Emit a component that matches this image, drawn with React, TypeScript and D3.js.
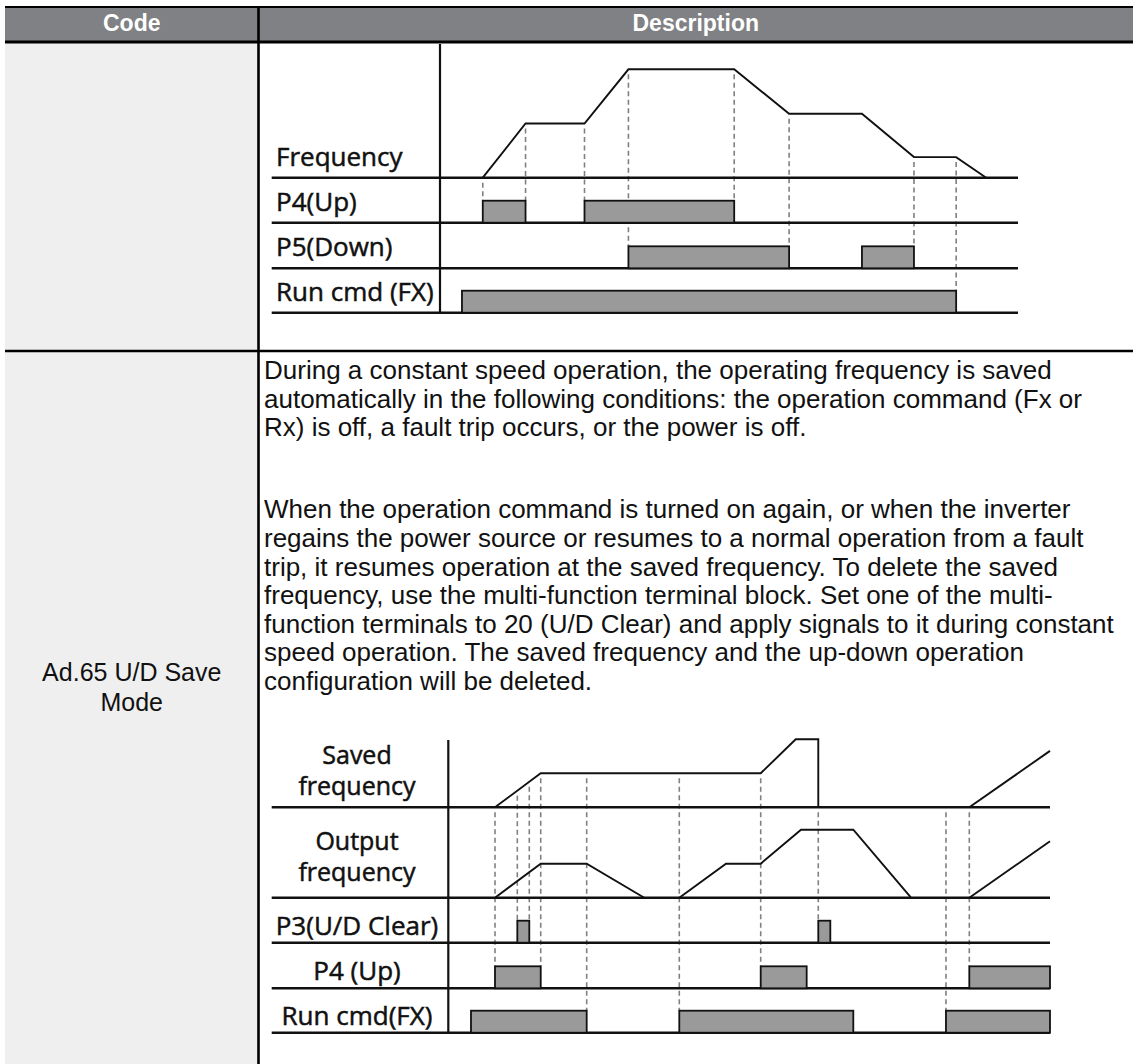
import React from 'react';
import * as d3 from 'd3';

// ---------- table text ----------
const headerLabels = ['Code', 'Description'];
const codeLines = ['Ad.65 U/D Save', 'Mode'];
const para1 = [
  'During a constant speed operation, the operating frequency is saved',
  'automatically in the following conditions: the operation command (Fx or',
  'Rx) is off, a fault trip occurs, or the power is off.',
];
const para2 = [
  'When the operation command is turned on again, or when the inverter',
  'regains the power source or resumes to a normal operation from a fault',
  'trip, it resumes operation at the saved frequency. To delete the saved',
  'frequency, use the multi-function terminal block. Set one of the multi-',
  'function terminals to 20 (U/D Clear) and apply signals to it during constant',
  'speed operation. The saved frequency and the up-down operation',
  'configuration will be deleted.',
];

// ---------- diagram 1 (time 0..100, level 0..100) ----------
const d1Labels = ['Frequency', 'P4(Up)', 'P5(Down)', 'Run cmd (FX)'];
const d1Freq: [number, number][][] = [[
  [7.4, 0], [14.8, 50], [25, 50], [32.6, 100], [50.9, 100], [60.4, 59],
  [73, 59], [82, 19], [89.3, 19], [94.5, 0],
]];
const d1P4: [number, number][] = [[7.4, 14.8], [25, 50.9]];
const d1P5: [number, number][] = [[32.6, 60.4], [73, 82]];
const d1Run: [number, number][] = [[3.8, 89.3]];
const d1DashTimes = [7.4, 14.8, 25, 32.6, 50.9, 60.4, 82, 89.3];
const d1DashTargets = [1, 1, 1, 2, 1, 2, 2, 3];

// ---------- diagram 2 ----------
const d2Labels = [['Saved', 'frequency'], ['Output', 'frequency'], ['P3(U/D Clear)'], ['P4 (Up)'], ['Run cmd(FX)']];
const d2Saved: [number, number][][] = [
  [[7.76, 0], [15.36, 50], [51.92, 50], [57.74, 100], [61.49, 100], [61.49, 0]],
  [[86.59, 0], [100, 83]],
];
const d2Output: [number, number][][] = [
  [[7.76, 0], [15.36, 50], [23, 50], [32.57, 0]],
  [[38.39, 0], [46.15, 50], [51.92, 50], [58.62, 100], [67.31, 100], [76.9, 0]],
  [[86.59, 0], [100, 83]],
];
const d2P3: [number, number][] = [[11.47, 13.46], [61.49, 63.49]];
const d2P4: [number, number][] = [[7.76, 15.36], [51.92, 59.56], [86.59, 100]];
const d2Run: [number, number][] = [[3.77, 23.0], [38.39, 67.31], [82.71, 100]];
const d2DashTimes = [7.76, 11.47, 13.46, 15.36, 23.0, 38.39, 51.92, 61.49, 82.71, 86.59];
const d2DashTargets = [3, 2, 2, 3, 4, 4, 3, 2, 4, 3];

// ---------- styles ----------
const LABEL_FONT = '"Open Sans", "Noto Sans", sans-serif';
const BODY_FONT = '"Liberation Sans", Arial, sans-serif';
const PULSE_H = 22;
const DASH_GAP = 5;

function levelAt(segments: [number, number][][], t: number): number {
  for (const seg of segments) {
    if (t < seg[0][0] || t > seg[seg.length - 1][0]) continue;
    let val = 0;
    for (let i = 0; i < seg.length - 1; i++) {
      const [t0, v0] = seg[i];
      const [t1, v1] = seg[i + 1];
      if (t >= t0 && t <= t1) {
        val = t1 === t0 ? v1 : v0 + ((t - t0) / (t1 - t0)) * (v1 - v0);
      }
    }
    return val;
  }
  return 0;
}

type DiagramProps = {
  axisX: number;
  axisTop: number;
  endX: number;
  lineStart: number;
  baselines: number[];
  curveRows: { row: number; segs: [number, number][][]; height: number }[];
  pulseRows: { row: number; pulses: [number, number][] }[];
  dashTimes: number[];
  dashTargets: number[];
  dashSource: [number, number][][];
  dashSourceHeight: number;
};

function Diagram(p: DiagramProps) {
  const x = d3.scaleLinear().domain([0, 100]).range([p.axisX, p.endX]);
  const yFor = (row: number, h: number) =>
    d3.scaleLinear().domain([0, 100]).range([p.baselines[row], p.baselines[row] - h]);
  const ySrc = yFor(0, p.dashSourceHeight);
  const lastBase = p.baselines[p.baselines.length - 1];
  return (
    <g>
      {/* dashed guides */}
      {p.dashTimes.map((t, i) => {
        const y1 = ySrc(levelAt(p.dashSource, t)) + DASH_GAP;
        const y2 = p.baselines[p.dashTargets[i]] - PULSE_H;
        return (
          <line key={'d' + i} x1={x(t)} x2={x(t)} y1={y1} y2={y2}
            stroke="#808080" strokeWidth={1.6} strokeDasharray="5,3.5" />
        );
      })}
      {/* axis */}
      <line x1={p.axisX} x2={p.axisX} y1={p.axisTop} y2={lastBase} stroke="#111" strokeWidth={2.2} />
      {/* baselines */}
      {p.baselines.map((b, i) => (
        <line key={'b' + i} x1={p.lineStart} x2={p.endX} y1={b} y2={b} stroke="#111" strokeWidth={2.4} />
      ))}
      {/* curves */}
      {p.curveRows.map((c, ci) => {
        const y = yFor(c.row, c.height);
        const line = d3.line<[number, number]>().x(d => x(d[0])).y(d => y(d[1]));
        return c.segs.map((s, si) => (
          <path key={'c' + ci + '-' + si} d={line(s) || ''} fill="none" stroke="#111"
            strokeWidth={1.9} strokeLinejoin="miter" />
        ));
      })}
      {/* pulses */}
      {p.pulseRows.map((r, ri) =>
        r.pulses.map((pl, pi) => (
          <rect key={'p' + ri + '-' + pi} x={x(pl[0])} y={p.baselines[r.row] - PULSE_H}
            width={x(pl[1]) - x(pl[0])} height={PULSE_H}
            fill="#9a9a9a" stroke="#111" strokeWidth={1.8} />
        ))
      )}
    </g>
  );
}

export default function App() {
  const W = 1133;
  const H = 1064;
  const left = 5;
  const colX = 258.5;
  const headerTop = 7;
  const headerBottom = 42;
  const rowSplit = 351;
  const textX = 264;
  const lineH = 28.6;

  const d1Baselines = [177.7, 222.7, 268.3, 312.7];
  const d2Baselines = [807.3, 897.7, 942.7, 988.3, 1032.7];
  const d2LabelOffsets = [-43, -48, -8, -8, -8];
  const d2LabelLineGap = [31, 31, 0, 0, 0];

  return (
    <svg width={W} height={H} style={{ position: 'absolute', left: 0, top: 0, background: '#fff' }}>
      {/* code column background */}
      <rect x={left} y={headerBottom} width={colX - left} height={H - headerBottom} fill="#efefef" />
      {/* header */}
      <rect x={left} y={headerTop} width={W - left} height={headerBottom - headerTop} fill="#808184" />
      <line x1={left} x2={W} y1={headerTop} y2={headerTop} stroke="#000" strokeWidth={2.2} />
      <line x1={left} x2={W} y1={headerBottom} y2={headerBottom} stroke="#000" strokeWidth={2.8} />
      <line x1={left} x2={W} y1={rowSplit} y2={rowSplit} stroke="#000" strokeWidth={2.5} />
      <line x1={colX} x2={colX} y1={headerTop} y2={H} stroke="#000" strokeWidth={2.6} />
      <text x={(left + colX) / 2} y={31} textAnchor="middle" fill="#fff" fontFamily={BODY_FONT}
        fontWeight="bold" fontSize={23}>{headerLabels[0]}</text>
      <text x={(colX + W) / 2} y={31} textAnchor="middle" fill="#fff" fontFamily={BODY_FONT}
        fontWeight="bold" fontSize={23}>{headerLabels[1]}</text>

      {/* code cell */}
      {codeLines.map((s, i) => (
        <text key={'code' + i} x={(left + colX) / 2} y={681 + i * 30} textAnchor="middle"
          fontFamily={BODY_FONT} fontSize={25} fill="#111">{s}</text>
      ))}

      {/* paragraphs */}
      {para1.map((s, i) => (
        <text key={'p1' + i} x={textX} y={379 + i * lineH} fontFamily={BODY_FONT} fontSize={26} fill="#111">{s}</text>
      ))}
      {para2.map((s, i) => (
        <text key={'p2' + i} x={textX} y={690 - (para2.length - 1 - i) * lineH} fontFamily={BODY_FONT}
          fontSize={26} fill="#111">{s}</text>
      ))}

      {/* diagram 1 */}
      <Diagram
        axisX={440} axisTop={44} endX={1018} lineStart={271.7}
        baselines={d1Baselines}
        curveRows={[{ row: 0, segs: d1Freq, height: 108.4 }]}
        pulseRows={[{ row: 1, pulses: d1P4 }, { row: 2, pulses: d1P5 }, { row: 3, pulses: d1Run }]}
        dashTimes={d1DashTimes} dashTargets={d1DashTargets}
        dashSource={d1Freq} dashSourceHeight={108.4}
      />
      {d1Labels.map((s, i) => (
        <text key={'l1' + i} x={276} y={d1Baselines[i] - 12} fontFamily={LABEL_FONT} fontSize={26}
          fill="#111" stroke="#111" strokeWidth={0.5}>{s}</text>
      ))}

      {/* diagram 2 */}
      <Diagram
        axisX={448.3} axisTop={740} endX={1050} lineStart={271.7}
        baselines={d2Baselines}
        curveRows={[{ row: 0, segs: d2Saved, height: 68 }, { row: 1, segs: d2Output, height: 68 }]}
        pulseRows={[{ row: 2, pulses: d2P3 }, { row: 3, pulses: d2P4 }, { row: 4, pulses: d2Run }]}
        dashTimes={d2DashTimes} dashTargets={d2DashTargets}
        dashSource={d2Saved} dashSourceHeight={68}
      />
      {d2Labels.map((lines, i) =>
        lines.map((s, j) => (
          <text key={'l2' + i + '-' + j} x={357} textAnchor="middle"
            y={d2Baselines[i] + d2LabelOffsets[i] + j * d2LabelLineGap[i]}
            fontFamily={LABEL_FONT} fontSize={lines.length === 2 ? 25 : 26}
            fill="#111" stroke="#111" strokeWidth={0.5}>{s}</text>
        ))
      )}
    </svg>
  );
}
